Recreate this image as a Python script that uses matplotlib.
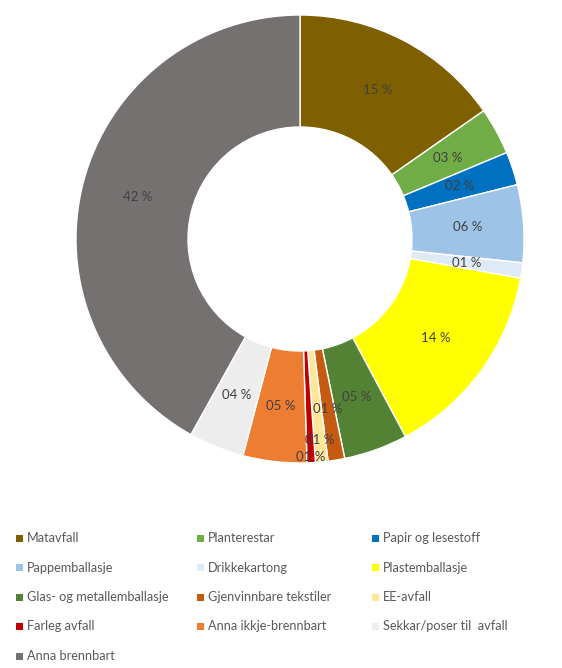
import numpy as np
import matplotlib
matplotlib.use("Agg")
import matplotlib.pyplot as plt
from matplotlib.patches import Rectangle

plt.rcParams['font.family'] = ['Lato', 'DejaVu Sans']

categories = ["Matavfall", "Planterestar", "Papir og lesestoff",
              "Pappemballasje", "Drikkekartong", "Plastemballasje",
              "Glas- og metallemballasje", "Gjenvinnbare tekstiler", "EE-avfall",
              "Farleg avfall", "Anna ikkje-brennbart", "Sekkar/poser til  avfall",
              "Anna brennbart"]
values = [15.3, 3.4, 2.4, 5.6, 1.1, 14.4, 4.6, 1.2, 0.9, 0.6, 4.6, 4.0, 41.9]
colors = ["#7F6000", "#70AD47", "#0070C0", "#9DC3E6", "#DEEBF7", "#FFFF00",
          "#548235", "#C55A11", "#FFE699", "#C00000", "#ED7D31", "#EDEDED",
          "#767171"]

W, H = 562, 668
fig = plt.figure(figsize=(W / 100, H / 100), dpi=100)
cx, cy, R = 300, 239, 224
ax = fig.add_axes([(cx - R) / W, (H - cy - R) / H, 2 * R / W, 2 * R / H])

wedges, texts, autotexts = ax.pie(
    values, colors=colors, startangle=90, counterclock=False, radius=1.0,
    autopct=lambda p: f"{p:02.0f} %", pctdistance=0.75,
    wedgeprops=dict(width=0.5, edgecolor='white', linewidth=1.0),
    textprops=dict(fontsize=9.5, color='#404040'))
ax.set_xlim(-1, 1)
ax.set_ylim(-1, 1)
ax.set_aspect('equal')
ax.axis('off')

# Nudge crowded small labels outward along their own radius
radial = {7: 0.77, 8: 0.90, 9: 0.975}
cum = np.cumsum([0] + values)
for i, r in radial.items():
    mid = 90 - 360 * (cum[i] + values[i] / 2) / sum(values)
    a = np.deg2rad(mid)
    autotexts[i].set_position((r * np.cos(a), r * np.sin(a)))

# Legend in Excel row-major layout
col_x = [16, 197, 372]
row_y0, row_dy = 538, 29.5
for i, (lab, c) in enumerate(zip(categories, colors)):
    row, col = divmod(i, 3)
    x = col_x[col]
    y = row_y0 + row * row_dy
    fig.patches.append(Rectangle(((x) / W, (H - y - 3.5) / H), 7 / W, 7 / H,
                                 transform=fig.transFigure, facecolor=c,
                                 edgecolor='none'))
    fig.text((x + 11) / W, (H - y) / H, lab, fontsize=9.2, color='#595959',
             va='center', ha='left')

fig.savefig("out.png", dpi=100, facecolor='white')
